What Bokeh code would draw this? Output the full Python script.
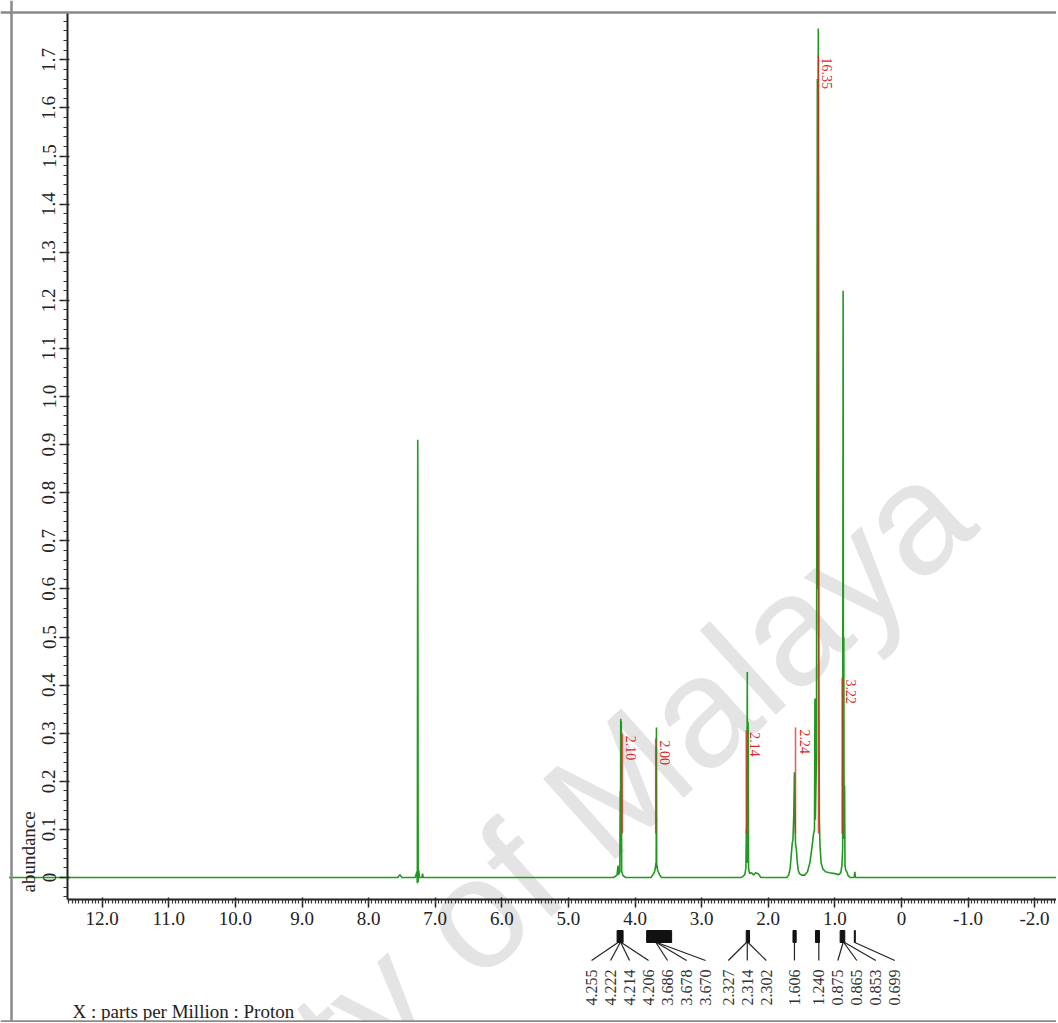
import math
from bokeh.plotting import figure
from bokeh.models import Range1d, SingleIntervalTicker, CustomJSTickFormatter, Span, Label, ColumnDataSource
from bokeh.core.properties import value
from bokeh.embed import file_html
from bokeh.resources import INLINE

# ---------------- data ----------------
spec_ppm = [
    13.40, 7.56, 7.53, 7.50,
    7.30, 7.275, 7.268, 7.262, 7.256, 7.248, 7.235,
    7.20, 7.19, 7.18,
    4.32, 4.27, 4.255, 4.248, 4.228, 4.222, 4.218, 4.214, 4.210, 4.206, 4.200, 4.18, 4.14,
    3.76, 3.72, 3.70, 3.686, 3.682, 3.678, 3.674, 3.670, 3.66, 3.645, 3.625, 3.60,
    2.40, 2.35, 2.335, 2.327, 2.321, 2.314, 2.308, 2.302, 2.295, 2.28, 2.25, 2.22, 2.19, 2.15, 2.11,
    1.72, 1.69, 1.67, 1.655, 1.64, 1.628, 1.616, 1.606, 1.598, 1.59, 1.578, 1.565, 1.55, 1.53, 1.50, 1.45,
    1.41, 1.375, 1.345, 1.32, 1.305, 1.298, 1.292, 1.275, 1.262, 1.256, 1.248, 1.240, 1.232, 1.222,
    1.205, 1.18, 1.14, 1.08, 1.00, 0.94,
    0.91, 0.893, 0.882, 0.875, 0.870, 0.865, 0.860, 0.853, 0.847, 0.835, 0.82, 0.80, 0.77,
    0.71, 0.699, 0.69,
    -2.40,
]
spec_abund = [
    0.0, 0.0, 0.006, 0.0,
    0.0, 0.012, -0.012, 0.91, -0.01, 0.015, 0.0,
    0.0, 0.008, 0.0,
    0.0, 0.005, 0.025, 0.006, 0.012, 0.18, 0.05, 0.33, 0.06, 0.325, 0.012, 0.004, 0.0,
    0.0, 0.008, 0.015, 0.03, 0.02, 0.312, 0.022, 0.025, 0.015, 0.01, 0.004, 0.0,
    0.0, 0.006, 0.02, 0.10, 0.03, 0.427, 0.03, 0.323, 0.02, 0.008, 0.01, 0.005, 0.01, 0.008, 0.0,
    0.0, 0.006, 0.02, 0.045, 0.07, 0.08, 0.13, 0.219, 0.13, 0.07, 0.06, 0.035, 0.015, 0.008, 0.005, 0.005,
    0.012, 0.03, 0.06, 0.09, 0.10, 0.372, 0.12, 0.25, 1.66, 0.6, 1.765, 0.45, 0.12, 0.065,
    0.03, 0.018, 0.012, 0.01, 0.008, 0.006,
    0.01, 0.025, 0.06, 1.22, 0.15, 0.50, 0.08, 0.19, 0.025, 0.015, 0.012, 0.004, 0.0,
    0.0, 0.012, 0.0,
    0.0,
]
assert len(spec_ppm) == len(spec_abund)

# integrals (red)
integ_ppm = [4.19, 3.69, 2.33, 1.59, 1.245, 0.89]
integ_base = [0.0915, 0.0915, 0.0915, 0.0915, 0.0915, 0.0915]
integ_top = [0.299, 0.289, 0.306, 0.312, 1.709, 0.416]
integ_text = ["2.10", "2.00", "2.14", "2.24", "16.35", "3.22"]

# picked peaks
pick_ppm = [4.255, 4.222, 4.214, 4.206, 3.686, 3.678, 3.670, 2.327, 2.314, 2.302,
            1.606, 1.240, 0.875, 0.865, 0.853, 0.699]
pick_text = ["4.255", "4.222", "4.214", "4.206", "3.686", "3.678", "3.670", "2.327", "2.314", "2.302",
             "1.606", "1.240", "0.875", "0.865", "0.853", "0.699"]
pick_group = [0, 0, 0, 0, 1, 1, 1, 2, 2, 2, 3, 4, 5, 5, 5, 6]
bar_hi = [4.269, 3.825, 2.330, 1.628, 1.290, 0.920, 0.707]
bar_lo = [4.179, 3.450, 2.280, 1.580, 1.230, 0.850, 0.692]

x_ticks_interval = 1.0
y_ticks_interval = 0.1

# ---------------- layout ----------------
W, H = 1056, 1022
PX = 66.6      # px per ppm
PY = 481.0     # px per abundance unit
X0 = 12 + 101.7 / PX
X1 = X0 - W / PX
Y1 = 877 / PY
Y0 = Y1 - H / PY

p = figure(width=W, height=H, x_range=Range1d(X0, X1), y_range=Range1d(Y0, Y1),
           output_backend="svg", toolbar_location=None, title=None, min_border=0,
           outline_line_color=None, background_fill_color="white", border_fill_color="white")
p.grid.visible = False

def sy(py):   # screen-y pixel -> abundance
    return Y1 - py / PY

def sx(px):   # screen-x pixel -> ppm
    return X0 - px / PX

# watermark
wm = Label(x=sx(945), y=sy(488), x_units="data", y_units="data", text="University of Malaya",
           angle=math.radians(42), text_align="right", text_baseline="alphabetic",
           text_font="Liberation Sans", text_font_size="157px", text_color="#e4e4e4", level="underlay")
p.add_layout(wm)

# outer border
for loc in (sy(12), sy(1021)):
    p.add_layout(Span(location=loc, dimension="width", line_color="#8a8a8a", line_width=2.5))
p.add_layout(Span(location=sx(11), dimension="height", line_color="#8a8a8a", line_width=2.5))

# axes
xax = p.xaxis[0]
xax.fixed_location = sy(899)
xax.bounds = (X1, sx(67))
xax.ticker = SingleIntervalTicker(interval=x_ticks_interval, num_minor_ticks=20)
xax.formatter = CustomJSTickFormatter(code="return Math.abs(tick) < 1e-9 ? '0' : tick.toFixed(1);")
yax = p.yaxis[0]
yax.fixed_location = sx(67)
yax.bounds = (sy(899), sy(12))
yax.ticker = SingleIntervalTicker(interval=y_ticks_interval, num_minor_ticks=5)
yax.formatter = CustomJSTickFormatter(code="return Math.abs(tick) < 1e-9 ? '0' : tick.toFixed(1);")
yax.major_label_orientation = "vertical"
for ax in (xax, yax):
    ax.axis_line_width = 2
    ax.axis_line_color = "#222222"
    ax.major_tick_line_color = "#222222"
    ax.minor_tick_line_color = "#333333"
    ax.major_tick_line_width = 1.5
    ax.minor_tick_line_width = 1.2
    ax.major_tick_out = 8
    ax.major_tick_in = 2
    ax.minor_tick_out = 4
    ax.minor_tick_in = 0
    ax.major_label_text_font = "Liberation Serif"
    ax.major_label_text_font_size = "19px"
    ax.major_label_text_color = "#222222"
    ax.major_label_standoff = 4

# spectrum
p.line(spec_ppm, spec_abund, line_color="#1f9a1f", line_width=1.6)

# integrals
isrc = ColumnDataSource(dict(x=integ_ppm, y0=integ_base, y1=integ_top, t=integ_text,
                             tx=[v - 9 / PX for v in integ_ppm], ty=[v - 2 / PY for v in integ_top]))
p.segment(x0="x", y0="y0", x1="x", y1="y1", source=isrc, line_color="#e8201c", line_width=1.5, line_alpha=0.75)
p.text(x="tx", y="ty", text="t", source=isrc, angle=-math.pi / 2, text_align="left", text_baseline="middle",
       text_font=value("Liberation Serif"), text_font_size="14px", text_color="#d8282a")

# peak-pick label placement (centre each multiplet, push right on overlap)
s = 19 / PX
label_ppm = []
prev = None
i = 0
while i < len(pick_ppm):
    j = i
    while j < len(pick_ppm) and pick_group[j] == pick_group[i]:
        j += 1
    members = pick_ppm[i:j]
    n = len(members)
    centre = -sum(members) / n
    start = centre - (n - 1) / 2 * s
    if prev is not None and start < prev + s:
        start = prev + s
    for k in range(n):
        label_ppm.append(-(start + k * s))
    prev = start + (n - 1) * s
    i = j

y_bar_top, y_bar_bot, y_fan_end, y_lab = sy(930), sy(942), sy(960), sy(1005)
p.quad(left=bar_hi, right=bar_lo, top=[y_bar_top] * len(bar_hi), bottom=[y_bar_bot] * len(bar_hi),
       fill_color="#111111", line_color="#111111", line_width=1)
p.segment(x0=pick_ppm, y0=[y_bar_bot] * len(pick_ppm), x1=label_ppm, y1=[y_fan_end] * len(pick_ppm),
          line_color="#222222", line_width=1.2)
p.text(x=label_ppm, y=[y_lab] * len(pick_ppm), text=pick_text, angle=math.pi / 2, text_align="left",
       text_baseline="middle", text_font=value("Liberation Serif"), text_font_size="16px", text_color="#333333")

# axis captions
p.text(x=[sx(28)], y=[sy(892)], text=["abundance"], angle=math.pi / 2, text_align="left", text_baseline="middle",
       text_font=value("Liberation Serif"), text_font_size="19px", text_color="#222222")
p.text(x=[sx(72)], y=[sy(1011)], text=["X : parts per Million : Proton"], text_align="left",
       text_baseline="middle", text_font=value("Liberation Serif"), text_font_size="19px", text_color="#222222")

open("out.html", "w").write(file_html(p, INLINE))
